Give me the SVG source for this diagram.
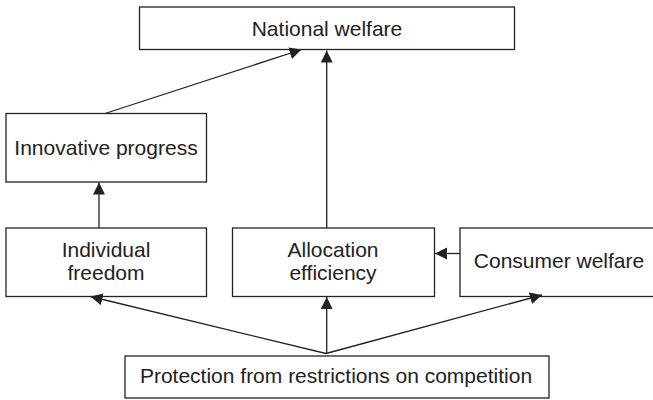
<svg xmlns="http://www.w3.org/2000/svg" width="653" height="400" viewBox="0 0 653 400">
<style>
.box{fill:#fff;stroke:#222;stroke-width:1.3}
.t{font-family:"Liberation Sans",Arial,sans-serif;font-size:21px;fill:#222;text-anchor:middle}
.c{fill:none;stroke:#222;stroke-width:1.3;marker-end:url(#ah)}
</style>
<defs>
<marker id="ah" markerUnits="userSpaceOnUse" markerWidth="13" markerHeight="13" refX="12" refY="6" orient="auto">
<path d="M0,0 L12,6 L0,12 z" fill="#222"/>
</marker>
</defs>
<rect width="653" height="400" fill="#fff"/>
<g id="national-welfare">
<rect class="box" x="139.5" y="7" width="375" height="42.5"/>
<text class="t" x="327" y="36">National welfare</text>
</g>
<g id="innovative-progress">
<rect class="box" x="6" y="113.5" width="200.5" height="68.5"/>
<text class="t" x="106" y="155">Innovative progress</text>
</g>
<g id="individual-freedom">
<rect class="box" x="6" y="228" width="200.5" height="68.5"/>
<text class="t" x="106" y="257">Individual</text>
<text class="t" x="106" y="280">freedom</text>
</g>
<g id="allocation-efficiency">
<rect class="box" x="232.5" y="228" width="202" height="68.5"/>
<text class="t" x="333" y="257">Allocation</text>
<text class="t" x="333" y="280">efficiency</text>
</g>
<g id="consumer-welfare">
<rect class="box" x="460" y="228" width="200" height="68.5"/>
<text class="t" x="559" y="268">Consumer welfare</text>
</g>
<g id="protection">
<rect class="box" x="125" y="356" width="424" height="42"/>
<text class="t" x="336" y="382.5">Protection from restrictions on competition</text>
</g>
<g id="connectors">
<line class="c" x1="105" y1="113.5" x2="301.5" y2="49.5"/>
<line class="c" x1="326.7" y1="228" x2="326.7" y2="50.5"/>
<line class="c" x1="99" y1="228" x2="99" y2="182.5"/>
<line class="c" x1="460" y1="253.5" x2="435" y2="253.5"/>
<line class="c" x1="326" y1="353.5" x2="90.5" y2="296.5"/>
<line class="c" x1="326.7" y1="353.5" x2="326.7" y2="297"/>
<line class="c" x1="326" y1="353.5" x2="542" y2="295"/>
</g>
</svg>
